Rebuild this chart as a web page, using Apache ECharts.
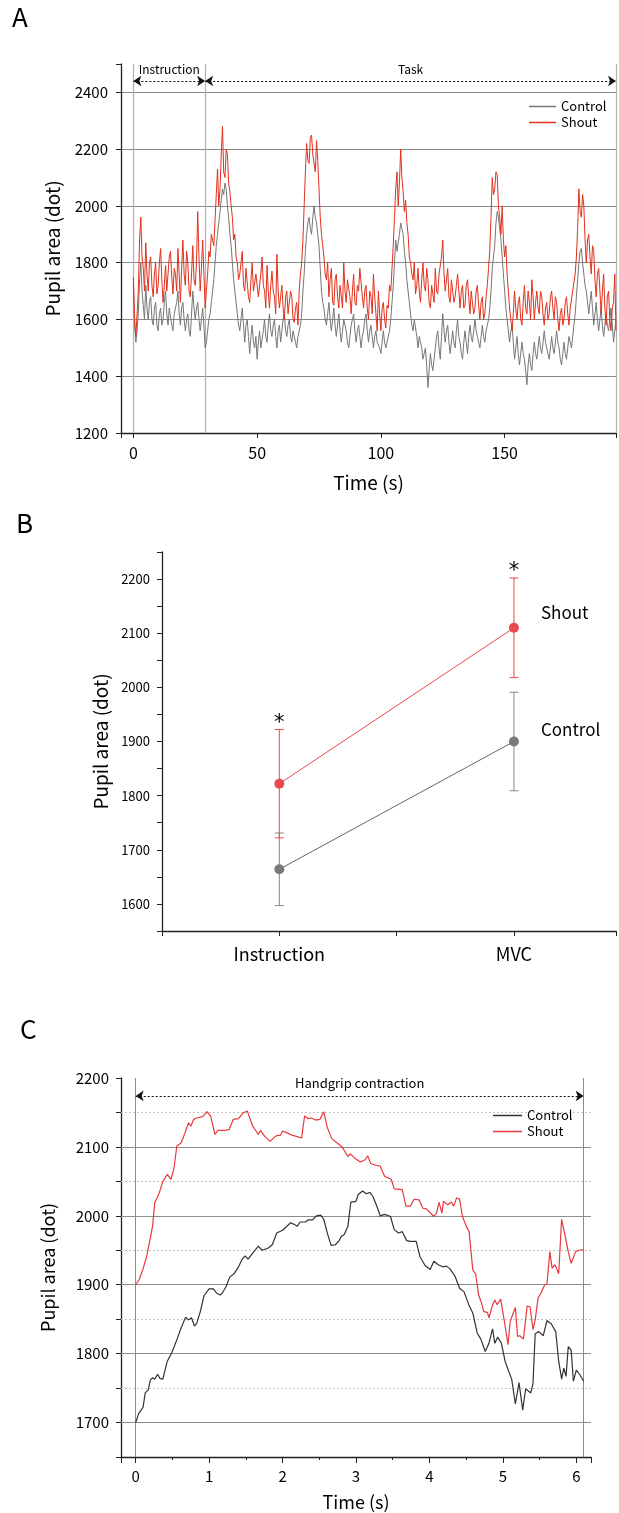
<!DOCTYPE html>
<html>
<head>
<meta charset="utf-8">
<script src="https://cdn.jsdelivr.net/npm/echarts@6/dist/echarts.min.js"></script>
<style>
  html, body { margin: 0; padding: 0; background: #fff; }
  #chart { width: 619px; height: 1513px; }
</style>
</head>
<body>
<div id="chart"></div>
<script>
const FONT = '"Noto Sans CJK JP", "Noto Sans", sans-serif';

// ---- Panel A : whole trial, one sample every 0.5 s ----
const timeA = Array.from({ length: 391 }, (_, i) => i * 0.5);
const controlA = [
  1720, 1580, 1520, 1560, 1620, 1740, 1800, 1700, 1650, 1600,
  1720, 1640, 1600, 1660, 1680, 1600, 1580, 1640, 1660, 1580,
  1560, 1620, 1640, 1580, 1600, 1660, 1700, 1620, 1580, 1640,
  1640, 1580, 1560, 1620, 1620, 1660, 1700, 1620, 1580, 1640,
  1660, 1600, 1560, 1600, 1620, 1560, 1540, 1620, 1700, 1640,
  1600, 1640, 1660, 1600, 1560, 1600, 1640, 1580, 1500, 1520,
  1560, 1600, 1620, 1660, 1700, 1740, 1800, 1860, 1900, 1940,
  1980, 2020, 2060, 2040, 2080, 2060, 2000, 1960, 1900, 1860,
  1800, 1740, 1700, 1660, 1620, 1580, 1560, 1600, 1640, 1580,
  1520, 1580, 1600, 1540, 1480, 1540, 1580, 1520, 1500, 1540,
  1460, 1520, 1560, 1500, 1500, 1560, 1600, 1540, 1520, 1580,
  1620, 1560, 1540, 1580, 1600, 1540, 1500, 1560, 1580, 1520,
  1560, 1600, 1620, 1560, 1540, 1580, 1600, 1540, 1520, 1560,
  1560, 1520, 1500, 1540, 1540, 1580, 1620, 1700, 1760, 1840,
  1900, 1940, 1960, 1920, 1900, 1960, 2000, 1960, 1940, 1900,
  1860, 1780, 1700, 1660, 1640, 1600, 1580, 1620, 1660, 1600,
  1560, 1600, 1640, 1580, 1540, 1580, 1620, 1560, 1520, 1560,
  1600, 1580, 1560, 1520, 1500, 1540, 1580, 1600, 1620, 1560,
  1520, 1560, 1580, 1540, 1500, 1540, 1560, 1600, 1620, 1560,
  1520, 1560, 1580, 1540, 1500, 1540, 1560, 1520, 1520, 1500,
  1480, 1520, 1560, 1520, 1500, 1520, 1540, 1560, 1600, 1660,
  1720, 1800, 1880, 1840, 1840, 1900, 1940, 1920, 1900, 1840,
  1800, 1740, 1700, 1660, 1620, 1580, 1560, 1600, 1600, 1540,
  1500, 1540, 1540, 1500, 1460, 1480, 1500, 1440, 1360, 1420,
  1480, 1440, 1420, 1460, 1500, 1540, 1560, 1500, 1460, 1540,
  1620, 1560, 1520, 1560, 1580, 1520, 1480, 1520, 1560, 1520,
  1500, 1560, 1600, 1540, 1520, 1480, 1460, 1520, 1560, 1520,
  1480, 1540, 1580, 1540, 1520, 1560, 1600, 1560, 1540, 1520,
  1500, 1540, 1580, 1540, 1520, 1560, 1580, 1600, 1640, 1700,
  1780, 1820, 1860, 1940, 1980, 1960, 1920, 1880, 1820, 1760,
  1700, 1640, 1600, 1560, 1520, 1560, 1580, 1520, 1460, 1500,
  1540, 1480, 1440, 1480, 1520, 1480, 1460, 1420, 1370, 1440,
  1480, 1440, 1420, 1480, 1520, 1480, 1460, 1500, 1540, 1500,
  1480, 1520, 1560, 1520, 1500, 1480, 1460, 1500, 1540, 1500,
  1480, 1520, 1560, 1520, 1500, 1460, 1440, 1480, 1520, 1480,
  1460, 1500, 1540, 1520, 1500, 1540, 1580, 1620, 1680, 1740,
  1800, 1840, 1850, 1800, 1760, 1720, 1700, 1660, 1620, 1660,
  1700, 1640, 1580, 1620, 1660, 1600, 1560, 1600, 1640, 1580,
  1540, 1580, 1620, 1580, 1560, 1600, 1640, 1580, 1520, 1560,
  1600
];
const shoutA = [
  1750, 1600, 1540, 1620, 1700, 1880, 1960, 1820, 1780, 1700,
  1870, 1760, 1700, 1800, 1820, 1720, 1680, 1760, 1800, 1690,
  1720, 1800, 1850, 1740, 1660, 1720, 1790, 1700, 1700, 1820,
  1840, 1750, 1690, 1780, 1760, 1700, 1850, 1760, 1660, 1780,
  1880, 1760, 1720, 1840, 1800, 1700, 1680, 1760, 1860, 1740,
  1720, 1800, 1980, 1820, 1700, 1780, 1880, 1760, 1640, 1700,
  1760, 1840, 1820, 1900, 1900, 1860, 1950, 2040, 2130, 2000,
  2060, 2180, 2280, 2120, 2100, 2200, 2180, 2080, 2050, 2000,
  1960, 1880, 1900, 1820, 1800, 1740, 1760, 1800, 1840, 1720,
  1700, 1780, 1780, 1680, 1660, 1740, 1800, 1700, 1700, 1760,
  1760, 1680, 1680, 1760, 1820, 1720, 1700, 1640, 1790, 1700,
  1640, 1720, 1770, 1700, 1680, 1620, 1830, 1700, 1640, 1680,
  1720, 1640, 1600, 1680, 1700, 1620, 1620, 1700, 1680, 1600,
  1590, 1640, 1660, 1580, 1700, 1760, 1800, 1880, 2000, 2120,
  2220, 2160, 2150, 2240, 2250, 2180, 2180, 2120, 2230, 2160,
  2060, 1960, 1900, 1860, 1820, 1760, 1740, 1800, 1680, 1740,
  1780, 1660, 1650, 1740, 1760, 1680, 1640, 1720, 1720, 1640,
  1800, 1700, 1660, 1740, 1740, 1680, 1620, 1700, 1760, 1660,
  1650, 1720, 1700, 1780, 1780, 1680, 1640, 1700, 1720, 1640,
  1600, 1700, 1680, 1620, 1760, 1680, 1620, 1560, 1700, 1620,
  1560, 1640, 1660, 1600, 1570, 1650, 1640, 1720, 1700, 1780,
  1860, 1960, 2060, 2120, 2000, 2080, 2200, 2100, 2050, 1980,
  2020, 1940, 1900, 1820, 1800, 1760, 1740, 1800, 1690, 1720,
  1780, 1700, 1660, 1740, 1800, 1720, 1700, 1780, 1740, 1660,
  1640, 1720, 1720, 1660, 1780, 1700, 1690, 1760, 1760, 1820,
  1880, 1760, 1700, 1740, 1780, 1680, 1660, 1740, 1740, 1660,
  1680, 1720, 1760, 1700, 1640, 1700, 1720, 1640, 1650, 1720,
  1740, 1680, 1620, 1700, 1700, 1620, 1640, 1700, 1720, 1650,
  1600, 1660, 1680, 1600, 1620, 1680, 1720, 1780, 1840, 1960,
  2100, 2040, 2060, 2120, 2110, 2000, 1960, 1900, 2000, 1880,
  1820, 1860, 1760, 1700, 1640, 1600, 1560, 1620, 1700, 1640,
  1600, 1660, 1680, 1600, 1580, 1660, 1720, 1640, 1620, 1700,
  1660, 1600, 1740, 1680, 1600, 1660, 1700, 1640, 1620, 1700,
  1680, 1620, 1580, 1640, 1660, 1600, 1620, 1680, 1700, 1640,
  1600, 1680, 1660, 1600, 1560, 1620, 1640, 1580, 1600, 1660,
  1680, 1620, 1580, 1640, 1640, 1700, 1700, 1760, 1820, 1920,
  2060, 1980, 1960, 2040, 2000, 1880, 1800, 1880, 1900, 1820,
  1760, 1860, 1840, 1740, 1680, 1760, 1780, 1700, 1620, 1700,
  1760, 1640, 1580, 1680, 1700, 1600, 1560, 1640, 1660, 1760,
  1560
];
const phaseLinesA = [0, 29, 195];
const phaseArrowsA = [
  { name: 'Instruction', from: 0, to: 29 },
  { name: 'Task', from: 29, to: 195 }
];
const arrowYA = 2440;

// ---- Panel B : means and error bars ----
const conditionsB = ['Instruction', 'MVC'];
const conditionPosB = [1, 3];
const shoutMeanB = [1822, 2110];
const shoutErrB = [100, 92];
const controlMeanB = [1664, 1900];
const controlErrB = [67, 91];
const signifB = ['*', '*'];

// ---- Panel C : handgrip contraction ----
const controlC = [
  [0, 1700], [0.04, 1713], [0.1, 1722], [0.13, 1743], [0.17, 1747], [0.2, 1762], [0.23, 1765],
  [0.26, 1763], [0.3, 1770], [0.33, 1764], [0.37, 1763], [0.43, 1789], [0.49, 1801], [0.56, 1820],
  [0.61, 1835], [0.63, 1834], [0.68, 1853], [0.72, 1849], [0.76, 1852], [0.8, 1840], [0.83, 1844],
  [0.88, 1861], [0.93, 1884], [1.0, 1894], [1.06, 1894], [1.1, 1888], [1.15, 1885], [1.18, 1888],
  [1.23, 1897], [1.28, 1911], [1.34, 1916], [1.39, 1924], [1.45, 1937], [1.49, 1942], [1.53, 1937],
  [1.61, 1948], [1.67, 1956], [1.72, 1950], [1.8, 1953], [1.86, 1958], [1.92, 1975], [2.0, 1979],
  [2.04, 1983], [2.11, 1990], [2.15, 1988], [2.2, 1985], [2.24, 1991], [2.31, 1991], [2.35, 1994],
  [2.41, 1994], [2.46, 2000], [2.52, 2001], [2.56, 1995], [2.61, 1975], [2.66, 1957], [2.72, 1958],
  [2.77, 1964], [2.8, 1970], [2.84, 1973], [2.89, 1985], [2.93, 2020], [3.0, 2021], [3.03, 2031],
  [3.09, 2036], [3.14, 2032], [3.19, 2034], [3.23, 2028], [3.28, 2015], [3.33, 2000], [3.39, 2002],
  [3.47, 1999], [3.52, 1980], [3.58, 1975], [3.63, 1977], [3.69, 1964], [3.74, 1963], [3.82, 1963],
  [3.87, 1941], [3.94, 1928], [4.01, 1922], [4.06, 1934], [4.12, 1929], [4.18, 1926], [4.23, 1927],
  [4.28, 1923], [4.35, 1912], [4.41, 1895], [4.47, 1890], [4.54, 1870], [4.59, 1859], [4.65, 1830],
  [4.7, 1821], [4.76, 1803], [4.81, 1815], [4.86, 1836], [4.89, 1815], [4.93, 1824], [4.98, 1815],
  [5.03, 1789], [5.08, 1774], [5.12, 1763], [5.17, 1727], [5.22, 1758], [5.27, 1718], [5.31, 1749],
  [5.38, 1743], [5.41, 1757], [5.44, 1829], [5.49, 1832], [5.55, 1826], [5.6, 1848], [5.66, 1843],
  [5.72, 1832], [5.76, 1789], [5.8, 1763], [5.83, 1779], [5.86, 1767], [5.89, 1810], [5.93, 1805],
  [5.96, 1760], [6.0, 1776], [6.05, 1769], [6.1, 1760]
];
const shoutC = [
  [0, 1900], [0.05, 1908], [0.1, 1923], [0.15, 1941], [0.2, 1968], [0.23, 1985], [0.26, 2019],
  [0.32, 2033], [0.37, 2050], [0.43, 2060], [0.48, 2053], [0.52, 2068], [0.56, 2101], [0.62, 2106],
  [0.67, 2120], [0.72, 2135], [0.75, 2130], [0.79, 2140], [0.83, 2142], [0.91, 2144], [0.97, 2151],
  [1.02, 2145], [1.08, 2118], [1.12, 2124], [1.21, 2124], [1.27, 2125], [1.33, 2140], [1.4, 2141],
  [1.47, 2150], [1.52, 2152], [1.59, 2131], [1.67, 2118], [1.7, 2124], [1.76, 2115], [1.83, 2108],
  [1.91, 2116], [1.97, 2117], [2.0, 2123], [2.07, 2120], [2.13, 2117], [2.2, 2115], [2.26, 2113],
  [2.3, 2145], [2.35, 2141], [2.39, 2142], [2.45, 2139], [2.51, 2140], [2.56, 2151], [2.61, 2128],
  [2.67, 2112], [2.74, 2106], [2.81, 2100], [2.89, 2086], [2.92, 2090], [2.98, 2084], [3.06, 2078],
  [3.12, 2081], [3.16, 2087], [3.2, 2076], [3.28, 2073], [3.33, 2072], [3.39, 2057], [3.44, 2055],
  [3.48, 2053], [3.52, 2039], [3.63, 2038], [3.68, 2014], [3.74, 2014], [3.79, 2024], [3.86, 2023],
  [3.91, 2011], [3.96, 2010], [4.06, 1999], [4.1, 2005], [4.13, 2020], [4.17, 2004], [4.19, 2021],
  [4.25, 2016], [4.3, 2020], [4.33, 2014], [4.37, 2026], [4.41, 2024], [4.45, 1999], [4.5, 1985],
  [4.54, 1977], [4.59, 1922], [4.63, 1915], [4.67, 1885], [4.71, 1873], [4.74, 1861], [4.79, 1860],
  [4.81, 1852], [4.86, 1871], [4.89, 1878], [4.92, 1871], [4.97, 1879], [5.02, 1847], [5.07, 1813],
  [5.1, 1847], [5.17, 1867], [5.2, 1825], [5.23, 1826], [5.28, 1821], [5.33, 1869], [5.37, 1868],
  [5.41, 1835], [5.44, 1849], [5.48, 1881], [5.52, 1888], [5.57, 1900], [5.6, 1901], [5.64, 1948],
  [5.67, 1924], [5.71, 1929], [5.76, 1916], [5.8, 1995], [5.84, 1975], [5.89, 1948], [5.93, 1931],
  [5.99, 1948], [6.04, 1950], [6.1, 1951]
];
const gridMajorC = [1700, 1800, 1900, 2000, 2100];
const gridMinorC = [1750, 1850, 1950, 2050, 2150];
const phaseLinesC = [0, 6.1];
const arrowC = { name: 'Handgrip contraction', from: 0, to: 6.1, y: 2174 };

const chart = echarts.init(document.getElementById('chart'), null, { renderer: 'canvas' });

const axisLine = { show: true, onZero: false, lineStyle: { color: '#222', width: 1.3 } };
const axisTick = { show: true, length: 5, lineStyle: { color: '#222', width: 1 } };
const nameStyle = { fontSize: 19, color: '#000', fontFamily: FONT };

// error bars for panel B (with the significance mark above the upper cap)
function errorBars(color, withMark) {
  return (params, api) => {
    const x = api.value(0);
    const m = api.value(1);
    const e = api.value(2);
    const top = api.coord([x, m + e]);
    const bot = api.coord([x, m - e]);
    const w = 4.5;
    const style = { stroke: color, lineWidth: 1 };
    const children = [
      { type: 'line', shape: { x1: top[0], y1: top[1], x2: bot[0], y2: bot[1] }, style },
      { type: 'line', shape: { x1: top[0] - w, y1: top[1], x2: top[0] + w, y2: top[1] }, style },
      { type: 'line', shape: { x1: bot[0] - w, y1: bot[1], x2: bot[0] + w, y2: bot[1] }, style }
    ];
    if (withMark) {
      children.push({
        type: 'text', x: top[0], y: top[1] - 6,
        style: { text: signifB[params.dataIndex], fill: '#000', fontSize: 21, fontFamily: '"DejaVu Sans", sans-serif', align: 'center', verticalAlign: 'middle' }
      });
    }
    return { type: 'group', children };
  };
}

const option = {
  animation: false,
  backgroundColor: '#fff',
  textStyle: { fontFamily: FONT },
  graphic: [
    { type: 'text', left: 12, top: 4, style: { text: 'A', fontSize: 26, fill: '#000', fontFamily: FONT } },
    { type: 'text', left: 16, top: 510, style: { text: 'B', fontSize: 26, fill: '#000', fontFamily: FONT } },
    { type: 'text', left: 20, top: 1016, style: { text: 'C', fontSize: 26, fill: '#000', fontFamily: FONT } }
  ],
  legend: [
    {
      left: 524, top: 95, orient: 'vertical', icon: 'rect', itemWidth: 27, itemHeight: 1.5, itemGap: 3,
      textStyle: { fontSize: 13, color: '#000', fontFamily: FONT },
      data: [
        { name: 'Control', itemStyle: { color: '#777' } },
        { name: 'Shout', itemStyle: { color: '#e2311d' } }
      ]
    },
    {
      left: 488, top: 1104, orient: 'vertical', icon: 'rect', itemWidth: 29, itemHeight: 1.5, itemGap: 3,
      textStyle: { fontSize: 13, color: '#000', fontFamily: FONT },
      data: [
        { name: 'Control', itemStyle: { color: '#333' } },
        { name: 'Shout', itemStyle: { color: '#e8393e' } }
      ]
    }
  ],
  grid: [
    { left: 121, top: 64, width: 498, height: 369 },
    { left: 162, top: 552, width: 457, height: 379 },
    { left: 121, top: 1078, width: 470, height: 379 }
  ],
  xAxis: [
    {
      gridIndex: 0, type: 'value', min: -5, max: 195, splitNumber: 4,
      axisLine, axisTick, splitLine: { show: false },
      axisLabel: { fontSize: 16, color: '#000', margin: 12, formatter: v => (v % 50 === 0 ? v : '') },
      name: 'Time (s)', nameLocation: 'middle', nameGap: 40, nameTextStyle: nameStyle
    },
    {
      gridIndex: 1, type: 'value', min: 0, max: 3.87, interval: 1,
      axisLine, axisTick, splitLine: { show: false },
      axisLabel: {
        fontSize: 18, color: '#000', margin: 14,
        formatter: v => { const i = conditionPosB.indexOf(v); return i >= 0 ? conditionsB[i] : ''; }
      }
    },
    {
      gridIndex: 2, type: 'value', min: -0.2, max: 6.2, splitNumber: 6,
      axisLine, axisTick: { show: true, length: 6, lineStyle: { color: '#222' } }, splitLine: { show: false },
      axisLabel: { fontSize: 15, color: '#000', margin: 12, formatter: v => (Number.isInteger(v) ? v : '') },
      name: 'Time (s)', nameLocation: 'middle', nameGap: 36, nameTextStyle: { ...nameStyle, fontSize: 18 }
    },
    {
      gridIndex: 2, type: 'value', min: -0.2, max: 6.2, splitNumber: 13, position: 'bottom',
      axisLine: { show: false }, axisLabel: { show: false }, splitLine: { show: false },
      axisTick: { show: true, length: 3, lineStyle: { color: '#222' } }
    }
  ],
  yAxis: [
    {
      gridIndex: 0, type: 'value', min: 1200, max: 2500, interval: 200,
      axisLine, axisTick,
      splitLine: { show: true, showMaxLine: false, lineStyle: { color: '#8a8a8a', width: 1 } },
      axisLabel: { fontSize: 15, color: '#000', margin: 13, formatter: v => (v <= 2400 ? v : '') },
      name: 'Pupil area (dot)', nameLocation: 'middle', nameGap: 59, nameTextStyle: nameStyle
    },
    {
      gridIndex: 1, type: 'value', min: 1550, max: 2250, interval: 50,
      axisLine, axisTick, splitLine: { show: false },
      axisLabel: { fontSize: 13, color: '#000', margin: 12, formatter: v => (v % 100 === 0 && v >= 1600 && v <= 2200 ? v : '') },
      name: 'Pupil area (dot)', nameLocation: 'middle', nameGap: 49, nameTextStyle: nameStyle
    },
    {
      gridIndex: 2, type: 'value', min: 1650, max: 2200, interval: 50,
      axisLine, axisTick, splitLine: { show: false },
      axisLabel: { fontSize: 15, color: '#000', margin: 12, formatter: v => (v % 100 === 0 ? v : '') },
      name: 'Pupil area (dot)', nameLocation: 'middle', nameGap: 64, nameTextStyle: { ...nameStyle, fontSize: 18 }
    }
  ],
  series: [
    // ---- A ----
    {
      name: 'Control', type: 'line', xAxisIndex: 0, yAxisIndex: 0,
      data: timeA.map((t, i) => [t, controlA[i]]),
      showSymbol: false, symbol: 'none', lineStyle: { color: '#777', width: 1 }, itemStyle: { color: '#777' },
      markLine: {
        silent: true, symbol: 'none', z: 1, label: { show: false },
        lineStyle: { color: '#b0b0b0', type: 'solid', width: 1.2 },
        data: phaseLinesA.map(v => ({ xAxis: v }))
      }
    },
    {
      name: 'Shout', type: 'line', xAxisIndex: 0, yAxisIndex: 0,
      data: timeA.map((t, i) => [t, shoutA[i]]),
      showSymbol: false, symbol: 'none', lineStyle: { color: '#e2311d', width: 1 }, itemStyle: { color: '#e2311d' },
      markLine: {
        silent: true, symbol: ['arrow', 'arrow'], symbolSize: 8, z: 3,
        lineStyle: { color: '#111', type: [2, 2], width: 1 },
        label: { show: true, position: 'insideMiddleTop', distance: 6, formatter: '{b}', fontSize: 12, color: '#000', fontFamily: FONT },
        data: phaseArrowsA.map(p => [{ name: p.name, coord: [p.from, arrowYA] }, { coord: [p.to, arrowYA] }])
      }
    },
    // ---- B ----
    {
      name: 'Control', type: 'custom', xAxisIndex: 1, yAxisIndex: 1,
      renderItem: errorBars('#888', false),
      data: controlMeanB.map((m, i) => [conditionPosB[i], m, controlErrB[i]])
    },
    {
      name: 'Shout', type: 'custom', xAxisIndex: 1, yAxisIndex: 1,
      renderItem: errorBars('#e84a4f', true),
      data: shoutMeanB.map((m, i) => [conditionPosB[i], m, shoutErrB[i]])
    },
    {
      name: 'Control', type: 'line', xAxisIndex: 1, yAxisIndex: 1,
      data: controlMeanB.map((m, i) => [conditionPosB[i], m]),
      symbol: 'circle', symbolSize: 10, lineStyle: { color: '#666', width: 1 }, itemStyle: { color: '#7a7a7a' },
      label: {
        show: true, position: 'right', distance: 22, offset: [0, -12], fontSize: 17, color: '#000', fontFamily: FONT,
        formatter: p => (p.dataIndex === conditionsB.length - 1 ? p.seriesName : '')
      }
    },
    {
      name: 'Shout', type: 'line', xAxisIndex: 1, yAxisIndex: 1,
      data: shoutMeanB.map((m, i) => [conditionPosB[i], m]),
      symbol: 'circle', symbolSize: 10, lineStyle: { color: '#e84a4f', width: 1 }, itemStyle: { color: '#e84a4f' },
      label: {
        show: true, position: 'right', distance: 22, offset: [0, -15], fontSize: 17, color: '#000', fontFamily: FONT,
        formatter: p => (p.dataIndex === conditionsB.length - 1 ? p.seriesName : '')
      }
    },
    // ---- C ----
    {
      name: 'Control', type: 'line', xAxisIndex: 2, yAxisIndex: 2,
      data: controlC, showSymbol: false, symbol: 'none',
      lineStyle: { color: '#333', width: 1.2 }, itemStyle: { color: '#333' },
      markLine: {
        silent: true, symbol: 'none', z: 1, label: { show: false },
        lineStyle: { color: '#8c8c8c', type: 'solid', width: 1 },
        data: gridMajorC.map(v => ({ yAxis: v })).concat(phaseLinesC.map(v => ({ xAxis: v })))
      }
    },
    {
      name: 'Shout', type: 'line', xAxisIndex: 2, yAxisIndex: 2,
      data: shoutC, showSymbol: false, symbol: 'none',
      lineStyle: { color: '#e8393e', width: 1.2 }, itemStyle: { color: '#e8393e' },
      markLine: {
        silent: true, symbol: 'none', z: 1, label: { show: false },
        lineStyle: { color: '#c4c4c4', type: [2, 2], width: 1 },
        data: gridMinorC.map(v => ({ yAxis: v }))
      }
    },
    {
      name: '', type: 'line', xAxisIndex: 2, yAxisIndex: 2, data: [],
      markLine: {
        silent: true, symbol: ['arrow', 'arrow'], symbolSize: 8, z: 3,
        lineStyle: { color: '#111', type: [2, 2], width: 1 },
        label: { show: true, position: 'insideMiddleTop', distance: 6, formatter: '{b}', fontSize: 13, color: '#000', fontFamily: FONT },
        data: [[{ name: arrowC.name, coord: [arrowC.from, arrowC.y] }, { coord: [arrowC.to, arrowC.y] }]]
      }
    }
  ]
};

chart.setOption(option);
</script>
</body>
</html>
